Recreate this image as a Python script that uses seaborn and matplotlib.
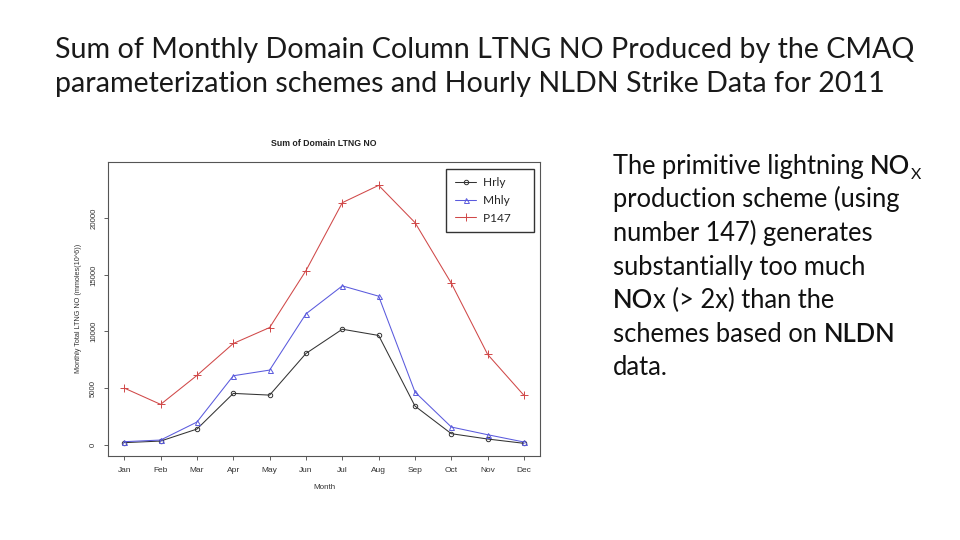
import matplotlib
matplotlib.use("Agg")
import matplotlib.pyplot as plt
import seaborn as sns
import pandas as pd
import numpy as np

months = ["Jan", "Feb", "Mar", "Apr", "May", "Jun", "Jul", "Aug", "Sep", "Oct", "Nov", "Dec"]
hrly = [180, 320, 1380, 4530, 4380, 8060, 10200, 9650, 3410, 970, 500, 120]
mhly = [265, 410, 2000, 6090, 6590, 11560, 14030, 13120, 4650, 1560, 880, 235]
p147 = [5000, 3560, 6120, 8940, 10350, 15380, 21380, 22910, 19620, 14260, 7970, 4350]
series_names = ["Hrly", "Mhly", "P147"]
yticks = [0, 5000, 10000, 15000, 20000]

slide_title = ["Sum of Monthly Domain Column LTNG NO Produced by the CMAQ",
               "parameterization schemes and Hourly NLDN Strike Data for 2011"]
chart_title = "Sum of Domain LTNG NO"
xlabel = "Month"
ylabel = "Monthly Total LTNG NO (mmoles(10^6))"

sns.set_style("white")
plt.rcParams['font.family'] = ['Liberation Sans', 'DejaVu Sans']

W, H = 960, 540
fig = plt.figure(figsize=(9.6, 5.4), dpi=100)
fig.patch.set_facecolor("white")

ax = fig.add_axes([108.3 / W, 1 - 456 / H, (540 - 108.3) / W, (456 - 161.7) / H])

x = np.arange(len(months))
df = pd.DataFrame({"month": x, "Hrly": hrly, "Mhly": mhly, "P147": p147})

styles = {
    "Hrly": dict(color="#333333", marker="o", ms=3.2),
    "Mhly": dict(color="#5a5add", marker="^", ms=3.6),
    "P147": dict(color="#d04848", marker="+", ms=5.5),
}
for name in series_names:
    st = styles[name]
    sns.lineplot(data=df, x="month", y=name, ax=ax, color=st["color"], lw=0.75,
                 marker=st["marker"], markersize=st["ms"], markerfacecolor="none",
                 markeredgecolor=st["color"], markeredgewidth=0.7, label=name,
                 legend=False)

ax.set_xlim(-0.44, 11.44)
ax.set_ylim(-1000, 25000)
ax.set_xticks(x)
ax.set_xticklabels(months, fontsize=6, color="#333333")
ax.set_yticks(yticks)
ax.set_yticklabels([str(v) for v in yticks], fontsize=5.6, color="#333333",
                   rotation=90, va="center")
ax.tick_params(axis="both", direction="out", length=3, width=0.6, color="#444444",
               bottom=True, left=True, pad=5)
for sp in ax.spines.values():
    sp.set_color("#555555")
    sp.set_linewidth(0.8)
ax.set_xlabel(xlabel, fontsize=5.8, color="#333333", labelpad=7)
ax.set_ylabel(ylabel, fontsize=5.2, color="#333333", labelpad=6)
ax.set_title(chart_title, fontsize=6.3, fontweight="bold", color="#222222", pad=11)

tfont = ["Lato", "DejaVu Sans"]
handles = ax.get_lines()
leg = ax.legend(handles, [n + "     " for n in series_names], loc="upper right",
                bbox_to_anchor=(0.986, 0.975), borderaxespad=0, frameon=True,
                fancybox=False, edgecolor="black",
                prop={"family": tfont, "size": 8.6},
                handlelength=1.8, handletextpad=0.55, labelspacing=0.55,
                borderpad=0.7)
leg.get_frame().set_linewidth(1.0)

# slide title
for i, line in enumerate(slide_title):
    fig.text(55 / W, 1 - (58 + i * 34) / H, line, fontsize=20.6, family=tfont,
             fontweight="normal", va="baseline", ha="left", color="#1a1a1a")

# body text with mixed weights
body = [
    [("The primitive lightning ", "normal"), ("NO", "bold"), ("X", "sub")],
    [("production scheme (using", "normal")],
    [("number 147) generates", "normal")],
    [("substantially too much", "normal")],
    [("NO", "bold"), ("x (> 2x) than the", "normal")],
    [("schemes based on ", "normal"), ("NLDN", "bold")],
    [("data.", "normal")],
]
renderer = fig.canvas.get_renderer()
bx0 = 613
by0 = 174
dy = 33.5
bsize = 18.4
for i, line in enumerate(body):
    cx = bx0
    by = by0 + i * dy
    for seg, kind in line:
        if kind == "sub":
            t = fig.text(cx / W, 1 - (by + 5) / H, seg, fontsize=bsize * 0.62,
                         family=tfont, va="baseline", ha="left", color="#111111")
        else:
            t = fig.text(cx / W, 1 - by / H, seg, fontsize=bsize, family=tfont,
                         fontweight=("semibold" if kind == "bold" else "normal"),
                         va="baseline", ha="left", color="#111111")
        bb = t.get_window_extent(renderer=renderer)
        cx += bb.width

fig.savefig("out.png", dpi=100, facecolor="white")
